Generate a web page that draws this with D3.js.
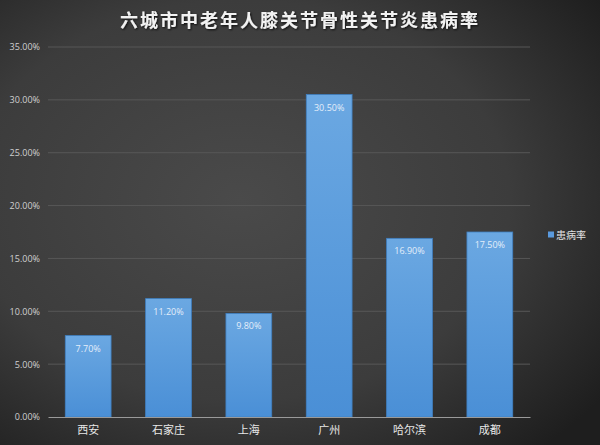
<!DOCTYPE html>
<html><head><meta charset="utf-8">
<script src="https://cdn.jsdelivr.net/npm/d3@7/dist/d3.min.js"></script>
<style>html,body{margin:0;padding:0;background:#333;}svg{display:block;}</style>
</head><body>
<svg id="c" width="600" height="445"></svg>
<script>
const title = "六城市中老年人膝关节骨性关节炎患病率";
const categories = ["西安","石家庄","上海","广州","哈尔滨","成都"];
const values = [7.7, 11.2, 9.8, 30.5, 16.9, 17.5];
const yTicks = [0,5,10,15,20,25,30,35];
const seriesName = "患病率";

const svg = d3.select("#c");
const W = 600, H = 445;
const m = {left:48, right:70, top:47, bottom:28};
const defs = svg.append("defs");
const bg = defs.append("radialGradient").attr("id","bg").attr("cx","40%").attr("cy","45%").attr("r","75%");
bg.append("stop").attr("offset","0%").attr("stop-color","#4a4a4a");
bg.append("stop").attr("offset","60%").attr("stop-color","#3c3c3c");
bg.append("stop").attr("offset","100%").attr("stop-color","#1e1e1e");
const bar = defs.append("linearGradient").attr("id","bar").attr("x1",0).attr("y1",0).attr("x2",0).attr("y2",1);
bar.append("stop").attr("offset","0%").attr("stop-color","#6ba8e2");
bar.append("stop").attr("offset","100%").attr("stop-color","#4a8fd6");
const sh = defs.append("filter").attr("id","sh");
sh.append("feDropShadow").attr("dx",1).attr("dy",1).attr("stdDeviation",0.8).attr("flood-color","#000").attr("flood-opacity",0.8);

svg.append("rect").attr("width",W).attr("height",H).attr("fill","url(#bg)");

const x = d3.scaleBand().domain(categories).range([48,530]).paddingInner(0.43).paddingOuter(0.215);
const y = d3.scaleLinear().domain([0,35]).range([417,47]);

// gridlines
svg.append("g").selectAll("line").data(yTicks.filter(d=>d>0)).join("line")
  .attr("x1",48).attr("x2",530).attr("y1",d=>y(d)).attr("y2",d=>y(d))
  .attr("stroke","#575757").attr("stroke-width",1);

// y axis labels
const yAxis = d3.axisLeft(y).tickValues(yTicks).tickFormat(d=>d.toFixed(2)+"%").tickSize(0).tickPadding(8);
const ya = svg.append("g").attr("transform","translate(48,0)").call(yAxis);
ya.select(".domain").remove();
ya.selectAll("text").attr("fill","#d0d0d0").attr("font-size",9).attr("font-family","Open Sans, sans-serif");

// bars
svg.append("g").selectAll("rect").data(values).join("rect")
  .attr("x",(d,i)=>x(categories[i])).attr("width",x.bandwidth())
  .attr("y",d=>y(d)).attr("height",d=>y(0)-y(d))
  .attr("fill","url(#bar)").attr("stroke","#3f7fc0").attr("stroke-width",0.8);

// value labels
svg.append("g").selectAll("text").data(values).join("text")
  .attr("x",(d,i)=>x(categories[i])+x.bandwidth()/2).attr("y",d=>y(d)+16)
  .attr("text-anchor","middle").attr("fill","#e4eefa").attr("font-size",9)
  .attr("font-family","Open Sans, sans-serif").text(d=>d.toFixed(2)+"%");

// x axis
const xAxis = d3.axisBottom(x).tickSize(0).tickPadding(9);
const xa = svg.append("g").attr("transform","translate(0,417)").call(xAxis);
xa.select(".domain").attr("stroke","#9a9a9a").attr("stroke-width",1.2);
xa.selectAll("text").attr("fill","#e8e8e8").attr("font-size",11).attr("font-family","Noto Sans CJK SC, sans-serif");

// title
svg.append("text").attr("x",300).attr("y",27).attr("text-anchor","middle")
  .attr("fill","#f2f2f2").attr("font-size",18).attr("font-weight","bold").attr("letter-spacing",2)
  .attr("font-family","Noto Sans CJK SC, sans-serif").attr("filter","url(#sh)").text(title);

// legend
const lg = svg.append("g").attr("transform","translate(548,235)");
lg.append("rect").attr("x",0).attr("y",-3.5).attr("width",6).attr("height",6).attr("fill","#5a9ade");
lg.append("text").attr("x",8).attr("y",0).attr("dy","0.35em").attr("fill","#e0e0e0").attr("font-size",10)
  .attr("font-family","Noto Sans CJK SC, sans-serif").text(seriesName);
</script>
</body></html>
